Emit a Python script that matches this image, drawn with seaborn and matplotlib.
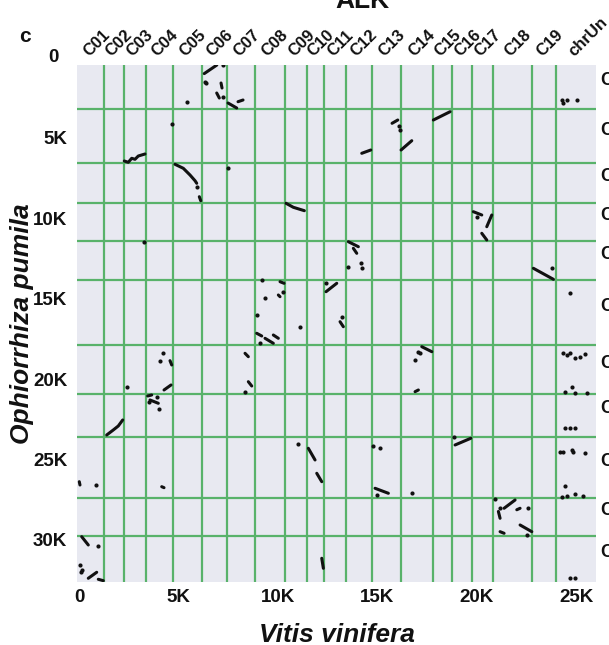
import matplotlib
matplotlib.use("Agg")
import numpy as np
import pandas as pd
import matplotlib.pyplot as plt
import seaborn as sns

# Vitis vinifera chromosomes along the x axis (length in genes)
vitis_names = ["C01", "C02", "C03", "C04", "C05", "C06", "C07", "C08", "C09", "C10",
               "C11", "C12", "C13", "C14", "C15", "C16", "C17", "C18", "C19", "chrUn"]
vitis_sizes = [1270, 980, 1120, 1370, 1430, 1290, 1380, 1520, 1120, 840,
               1110, 1290, 1460, 1610, 960, 1030, 1030, 1990, 1190, 2010]

# Ophiorrhiza pumila chromosomes along the y axis (length in genes)
ophio_names = ["C01", "C02", "C03", "C04", "C05", "C06", "C07", "C08", "C09", "C10", "C11"]
ophio_sizes = [3220, 3360, 2450, 2400, 2410, 4060, 3010, 2670, 3830, 2330, 2880]

# Collinear blocks: ordered gene-index pairs, one id per block
block_id = [1, 1, 2, 2, 3, 3, 4, 4, 5, 5,
            6, 6, 6, 6, 6, 6, 7, 7, 7, 7, 7, 8, 8, 9, 9, 9, 10, 10, 11, 11,
            12, 12, 13, 13, 14, 14, 15, 15, 16, 16, 17, 17, 18, 18, 19, 19, 20, 20,
            21, 21, 22, 22, 23, 23, 24, 24, 25, 25, 26, 26, 27, 27, 28, 28, 29, 29,
            30, 30, 31, 31, 32, 32, 33, 33, 33, 33, 34, 34, 35, 35, 36, 36, 37, 37,
            38, 38, 39, 39, 40, 40, 41, 41, 42, 42, 43, 43, 44, 44, 45, 45, 46, 46,
            47, 47, 48, 48, 49, 49, 50, 50]
block_x = [6300, 6930, 7143, 7193, 6926, 7057, 7495, 7932, 7998, 8249,
           2279, 2480, 2651, 2817, 2983, 3320, 4829, 5246, 5583, 5835, 5920, 6051, 6122,
           10412, 10779, 11333, 10110, 10312, 10025, 10110,
           17822, 18661, 15744, 16031, 16197, 16735, 14220, 14673, 19833, 20256,
           20507, 20759, 20256, 20507, 13546, 14049, 13797, 13968,
           22852, 23858, 12424, 12962, 13128, 13294, 8938, 9190, 9356, 9773, 9773, 10025,
           8350, 8516, 8516, 8687, 4577, 4663,
           4276, 4628, 3456, 3657, 3571, 3989, 1393, 1725, 1977, 2198, 4160, 4276,
           15, 50, 136, 468, 468, 890,
           971, 1222, 17238, 17741, 16901, 17067, 18913, 19703, 11534, 11871,
           11957, 12208, 14889, 15558, 21091, 21176, 21378, 21931,
           22017, 22182, 21176, 21378, 22182, 22771, 12208, 12289]
block_y = [1000, 470, 1586, 1897, 2208, 2519, 2830, 3141, 2749, 2643,
           6437, 6517, 6269, 6331, 6126, 6001, 6642, 6891, 7307, 7662, 7823, 8657, 8906,
           9067, 9316, 9527, 13943, 14043, 14770, 14876,
           3887, 3371, 4092, 3887, 5753, 5174, 5958, 5753, 9590, 9795,
           10523, 9795, 10933, 11350, 11456, 11766, 11866, 12177,
           13110, 13794, 14565, 14043, 16431, 16742, 17152, 17320, 17463, 17774, 17258, 17463,
           18396, 18607, 20162, 20430, 18856, 19123,
           20678, 20367, 21051, 20989, 21300, 21505, 23477, 23165, 22916, 22543, 26692, 26754,
           26381, 26587, 29801, 30318, 32389, 32016,
           32451, 32538, 17985, 18296, 20783, 20678, 24098, 23682, 24304, 25031,
           25859, 26381, 26791, 27102, 28233, 28657, 28035, 27519,
           28127, 28035, 29490, 29590, 29074, 29490, 31145, 31767]

# Isolated anchor genes
dot_x = [6340, 6390, 7240, 7243, 5447, 4678, 7510, 5920, 3285, 9190, 9356, 10246, 8938, 11116,
         24280, 24360, 24531, 25034,
         16111, 16146, 20004, 13546, 14170, 14220, 23777, 24697, 12424, 13214,
         9104, 8350, 4240, 4074, 2399, 3536, 3908, 4024, 11001,
         840, 971, 50, 136, 86,
         17067, 17152, 16901,
         24360, 24531, 24697, 24949, 25200, 25452, 24782, 24446, 24949, 25538,
         24446, 24697, 24949, 24194, 24360, 24782, 24863, 25452, 24446,
         24280, 24531, 24949, 25367, 24697, 24949,
         18863, 14803, 15140, 15004, 16735, 20925, 21176, 22600, 22519]
dot_y = [1500, 1590, 470, 2457, 2786, 4136, 6891, 8035, 11456, 13838, 14975, 14565, 16014, 16742,
         2643, 2848, 2643, 2643,
         4260, 4509, 9901, 13010, 12799, 13110, 13110, 14665, 14043, 16120,
         17774, 20783, 18358, 18856, 20510, 21406, 21095, 21878, 24036,
         26587, 30380, 31562, 31873, 31978,
         18296, 18396, 18812,
         18396, 18501, 18396, 18707, 18607, 18439, 20473, 20783, 20846, 20846,
         23060, 23060, 23060, 24515, 24515, 24409, 24515, 24615, 26630,
         27313, 27270, 27146, 27270, 32389, 32389,
         23620, 24160, 24304, 27208, 27102, 27456, 28035, 28035, 29695]

sns.set_theme(style="darkgrid")
plt.rcParams["font.family"] = ["Liberation Sans", "DejaVu Sans"]

blocks = pd.DataFrame({"block": block_id, "x": block_x, "y": block_y})
dots = pd.DataFrame({"x": dot_x, "y": dot_y})

W, H = 609, 645
fig = plt.figure(figsize=(W / 100, H / 100), dpi=100)
fig.patch.set_facecolor("white")
ax = fig.add_axes([77 / W, 1 - 582 / H, (596 - 77) / W, (582 - 65) / H])
ax.set_facecolor("#E8E9F1")
ax.grid(False)

x_edges = np.cumsum(vitis_sizes)
y_edges = np.cumsum(ophio_sizes)
grid_green = "#58b26a"
for xe in x_edges[:-1]:
    ax.axvline(xe, color=grid_green, lw=1.6, zorder=1)
for ye in y_edges[:-1]:
    ax.axhline(ye, color=grid_green, lw=1.6, zorder=1)

sns.lineplot(data=blocks, x="x", y="y", units="block", estimator=None, sort=False,
             color="#111111", lw=2.2, ax=ax, zorder=3)
sns.scatterplot(data=dots, x="x", y="y", color="#111111", s=9, linewidth=0,
                ax=ax, zorder=3)

ax.set_xlim(-100, 26000)
ax.set_ylim(32620, 466)
for s in ax.spines.values():
    s.set_visible(False)

ax.set_xticks([0, 5000, 10000, 15000, 20000, 25000])
ax.set_xticklabels(["0", "5K", "10K", "15K", "20K", "25K"])
ax.set_yticks([5000, 10000, 15000, 20000, 25000, 30000])
ax.set_yticklabels(["5K", "10K", "15K", "20K", "25K", "30K"])
ax.tick_params(axis="both", length=0, labelsize=13.5, colors="#111111")
ax.tick_params(axis="x", pad=5)
ax.tick_params(axis="y", pad=7)
for lab in ax.get_xticklabels() + ax.get_yticklabels():
    lab.set_fontweight("bold")
ax.annotate("0", xy=(0, 0), xycoords=("axes fraction", "data"), xytext=(-13, 0),
            textcoords="offset points", ha="right", va="center", fontsize=13.5,
            fontweight="bold", color="#111111", annotation_clip=False)

ax.set_xlabel("Vitis vinifera", fontsize=19, fontweight="bold", fontstyle="italic",
              color="#111111", labelpad=12)
ax.set_ylabel("Ophiorrhiza pumila", fontsize=19, fontweight="bold", fontstyle="italic",
              color="#111111", labelpad=-1)

# chromosome names along the top
x_starts = np.concatenate([[0], x_edges[:-1]])
for name, a, b in zip(vitis_names, x_starts, x_edges):
    ax.annotate(name, xy=((a + b) / 2, 1), xycoords=("data", "axes fraction"),
                xytext=(0, 4.5), textcoords="offset points", rotation=45,
                rotation_mode="anchor", ha="left", va="bottom", fontsize=12,
                fontweight="bold", color="#111111", annotation_clip=False)

# chromosome names down the right side
y_starts = np.concatenate([[466], y_edges[:-1]])
for name, a, b in zip(ophio_names, y_starts, y_edges):
    ax.annotate(name, xy=(1, (a + b) / 2), xycoords=("axes fraction", "data"),
                xytext=(3, 4.5), textcoords="offset points", ha="left", va="center",
                fontsize=13, fontweight="bold", color="#111111", annotation_clip=False)

fig.text(25 / W, 1 - 37 / H, "c", ha="center", va="center", fontsize=15,
         fontweight="bold", color="#111111")
fig.text(362 / W, 1 - 8 / H, "ALK", ha="center", va="baseline", fontsize=19,
         fontweight="bold", color="#111111")

fig.savefig("out.png", dpi=100, facecolor="white")
